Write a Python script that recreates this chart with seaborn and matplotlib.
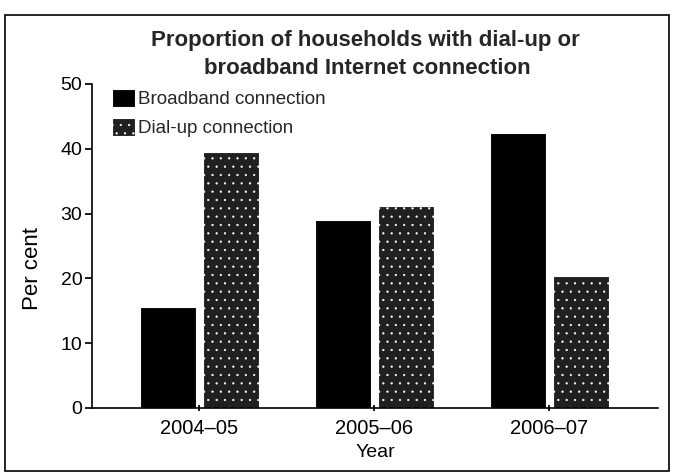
import matplotlib
matplotlib.use("Agg")
import matplotlib.pyplot as plt
import seaborn as sns
import pandas as pd
from matplotlib.patches import Rectangle

years = ["2004–05", "2005–06", "2006–07"]
broadband = [15.6, 29.0, 42.5]
dialup = [39.5, 31.2, 20.3]
series_names = ["Broadband connection", "Dial-up connection"]
yticks = [0, 10, 20, 30, 40, 50]
title_lines = ["Proportion of households with dial-up or", "broadband Internet connection"]

df = pd.DataFrame({
    "Year": years * 2,
    "Per cent": broadband + dialup,
    "Series": [series_names[0]] * 3 + [series_names[1]] * 3,
})

sns.set_theme(style="white")
plt.rcParams["font.family"] = ["Liberation Sans", "DejaVu Sans"]
plt.rcParams["hatch.color"] = "#5a5a5a"
plt.rcParams["hatch.linewidth"] = 0.4

W, H = 675, 474
fig = plt.figure(figsize=(6.75, 4.74), dpi=100)
ax = fig.add_axes([92 / W, 1 - 408 / H, (658 - 92) / W, (408 - 84) / H])

sns.barplot(data=df, x="Year", y="Per cent", hue="Series",
            palette=["#000000", "#202020"], width=0.72, gap=0.12,
            ax=ax, saturation=1, edgecolor="white", linewidth=0.8)

for p in ax.containers[1].patches:
    p.set_hatch("..")

ax.set_ylim(0, 50)
ax.set_xlim(-0.614, 2.62)
ax.set_yticks(yticks)
ax.set_yticklabels([str(t) for t in yticks], fontsize=14)
ax.tick_params(axis="x", labelsize=14.5, length=4, direction="inout", colors="black",
               bottom=True, pad=6)
ax.tick_params(axis="y", length=5, direction="out", left=True, colors="black", pad=2)

ax.spines["top"].set_visible(False)
ax.spines["right"].set_visible(False)
for s in ("left", "bottom"):
    ax.spines[s].set_color("black")
    ax.spines[s].set_linewidth(1.2)

ax.set_ylabel("Per cent", fontsize=16, color="black")
ax.yaxis.set_label_coords((43 - 92) / (658 - 92), (408 - 269) / (408 - 84))
ax.set_xlabel("Year", fontsize=14, color="black", labelpad=4)

leg = ax.legend(loc="upper left", bbox_to_anchor=(112 / W, 1 - 89 / H),
                bbox_transform=fig.transFigure, frameon=False,
                fontsize=13.5, handlelength=1.2, handleheight=1.1,
                handletextpad=0.2, labelspacing=0.5, borderaxespad=0.0,
                borderpad=0.0)
for h in leg.legend_handles:
    h.set_edgecolor("white")
leg.legend_handles[1].set_hatch("..")

fig.text(365 / W, 1 - 46 / H, title_lines[0], ha="center", va="baseline",
         fontsize=16, fontweight="bold")
fig.text(367 / W, 1 - 74 / H, title_lines[1], ha="center", va="baseline",
         fontsize=16, fontweight="bold")

fig.patches.append(Rectangle((5 / W, 3 / H), 664 / W, 456 / H,
                             transform=fig.transFigure, fill=False,
                             edgecolor="black", linewidth=1.2))

fig.savefig("out.png", dpi=100)
